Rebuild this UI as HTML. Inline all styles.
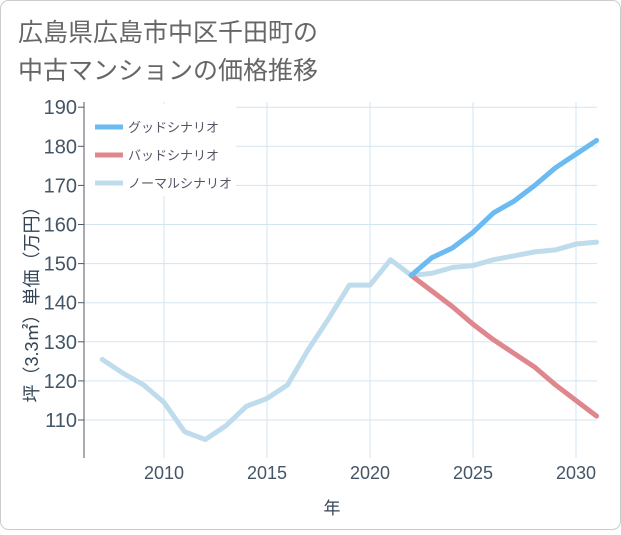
<!DOCTYPE html>
<html><head><meta charset="utf-8"><style>
body{margin:0;background:#fff;}
svg text{font-family:"Liberation Sans","Noto Sans CJK JP",sans-serif;}
</style></head><body>
<svg width="621" height="530" xmlns="http://www.w3.org/2000/svg">
<rect x="0.5" y="0.5" width="620" height="529" rx="8" fill="#fff" stroke="#ccc"/>
<text x="18" y="41" font-size="25" fill="#666">広島県広島市中区千田町の</text>
<text x="18" y="79" font-size="25" fill="#666">中古マンションの価格推移</text>
<g id="grid"></g>
<g id="yticks"></g>
<g id="xticks"></g>
<rect x="84" y="104" width="152" height="92" fill="#fff"/>
<g id="series"></g>
<line x1="84" y1="102" x2="84" y2="458" stroke="#556" stroke-width="1"/>
<text transform="translate(38,300) rotate(-90)" text-anchor="middle" font-size="18" fill="#345">坪（3.3㎡）単価（万円）</text>
<text x="332" y="514" text-anchor="middle" font-size="17" fill="#345">年</text>
<g>
<line x1="95" y1="127" x2="123" y2="127" stroke="#6bbaf2" stroke-width="5"/>
<text x="128" y="132" font-size="13" fill="#556">グッドシナリオ</text>
<line x1="95" y1="155" x2="123" y2="155" stroke="#e0868d" stroke-width="5"/>
<text x="128" y="160" font-size="13" fill="#556">バッドシナリオ</text>
<line x1="95" y1="183" x2="123" y2="183" stroke="#bfdcec" stroke-width="5"/>
<text x="128" y="188" font-size="13" fill="#556">ノーマルシナリオ</text>
</g>
</svg>
<script>
const normalYears=[2007,2008,2009,2010,2011,2012,2013,2014,2015,2016,2017,2018,2019,2020,2021,2022,2023,2024,2025,2026,2027,2028,2029,2030,2031];
const normalValues=[125.5,122,119,114.5,107,105,108.5,113.5,115.5,119,128,136,144.5,144.5,151,147,147.5,149,149.5,151,152,153,153.5,155,155.5];
const forecastYears=[2022,2023,2024,2025,2026,2027,2028,2029,2030,2031];
const goodValues=[147,151.5,154,158,163,166,170,174.5,178,181.5];
const badValues=[147,143,139,134.5,130.5,127,123.5,119,115,111];
const yTicks=[110,120,130,140,150,160,170,180,190];
const xTicks=[2010,2015,2020,2025,2030];
const NS="http://www.w3.org/2000/svg";
const X=y=>164+(y-2010)*20.6;
const Y=v=>420-(v-110)*3.91;
function mk(t,a,p){const e=document.createElementNS(NS,t);for(const k in a)e.setAttribute(k,a[k]);p.appendChild(e);return e;}
const grid=document.getElementById('grid'),yt=document.getElementById('yticks'),xt=document.getElementById('xticks'),se=document.getElementById('series');
yTicks.forEach(v=>{
 const l=mk('line',{x1:84,x2:597,y1:Y(v),y2:Y(v),stroke:'#d3e5f0','stroke-width':1},grid);
 
 
 const tk=mk('line',{x1:78,x2:84,y1:Y(v),y2:Y(v),stroke:'#556'},yt);
 
 
 const t=mk('text',{x:77,y:Y(v)+7,'text-anchor':'end','font-size':20,fill:'#456'},yt);
 t.textContent=v;
 
 
});
xTicks.forEach(v=>{
 const l=mk('line',{x1:X(v),x2:X(v),y1:102,y2:458,stroke:'#d3e5f0','stroke-width':1},grid);
 
 
 const t=mk('text',{x:X(v),y:479,'text-anchor':'middle','font-size':18,fill:'#456'},xt);
 t.textContent=v;
 
 
});
function line(xs,vs,c,name){
 const p=mk('polyline',{points:xs.map((y,i)=>X(y)+','+Y(vs[i])).join(' '),fill:'none',stroke:c,'stroke-width':5,'stroke-linejoin':'round','stroke-linecap':'round'},se);
 
 
}
line(normalYears,normalValues,'#bfdcec','normal-scenario-line');
line(forecastYears,badValues,'#e0868d','bad-scenario-line');
line(forecastYears,goodValues,'#6bbaf2','good-scenario-line');
</script>
</body></html>
